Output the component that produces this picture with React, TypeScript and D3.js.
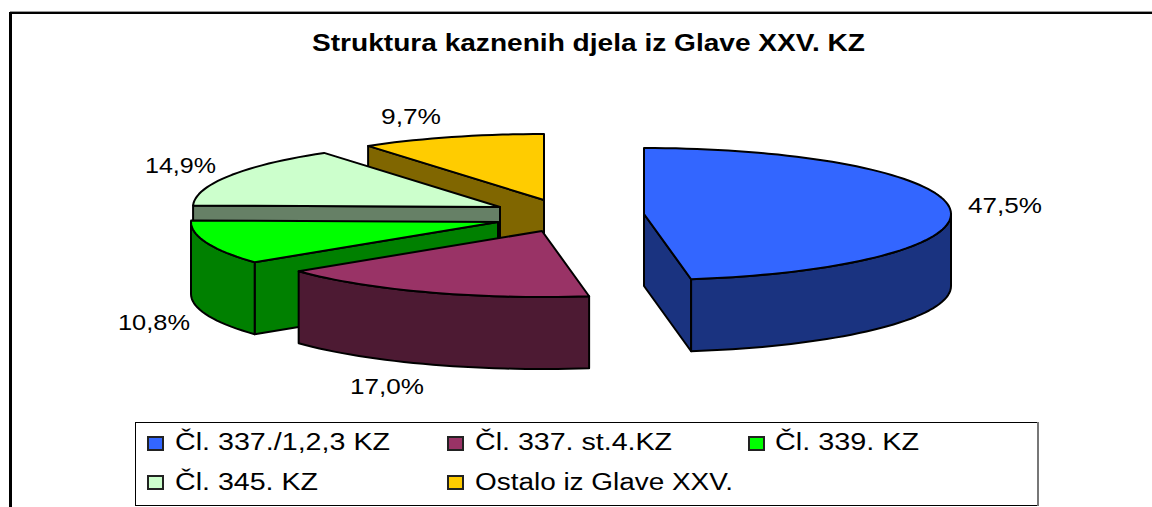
import React from "react";
import * as d3 from "d3";

// ---- data ----
const title = "Struktura kaznenih djela iz Glave XXV. KZ";
const categories = ["Čl. 337./1,2,3 KZ", "Čl. 337. st.4.KZ", "Čl. 339. KZ", "Čl. 345. KZ", "Ostalo iz Glave XXV."];
const shares = [47.5, 17.0, 10.8, 14.9, 9.7];
const shareLabels = ["47,5%", "17,0%", "10,8%", "14,9%", "9,7%"];

// ---- styles and layout ----
const topColors = ["#3366FF", "#993366", "#00FF00", "#CCFFCC", "#FFCC00"];
const sideColors = ["#1A3380", "#4D1A33", "#008000", "#668066", "#806600"];
const apexes: [number, number][] = [[644, 214], [542, 231], [498, 222], [500, 207], [544, 200]];
const labelBoxes = [
  { x: 968, y: 213, w: 74 },
  { x: 350, y: 394, w: 74 },
  { x: 118, y: 330, w: 72 },
  { x: 145, y: 173, w: 71 },
  { x: 381, y: 124, w: 60 },
];
const legendBoxes = [
  { sx: 148, sy: 437, tx: 175, ty: 450, w: 215 },
  { sx: 448, sy: 437, tx: 475, ty: 450, w: 197 },
  { sx: 749, sy: 437, tx: 775, ty: 450, w: 144 },
  { sx: 148, sy: 476, tx: 175, ty: 490, w: 143 },
  { sx: 448, sy: 476, tx: 475, ty: 490, w: 258 },
];
const RX = 307;
const RY = 66;
const DEPTH = 72;
const FONT = "'Liberation Sans', Arial, sans-serif";

const pie = d3.pie<number>().sort(null).value((d) => d);
const arcs = pie(shares);

type P = [number, number];
const linePath = d3.line<P>();

function Slice({ i }: { i: number }) {
  const [cx, cy] = apexes[i];
  const sx = d3.scaleLinear().domain([-1, 1]).range([cx - RX, cx + RX]);
  const sy = d3.scaleLinear().domain([-1, 1]).range([cy + RY, cy - RY]); // north = +1
  const pt = (a: number, dz = 0): P => [sx(Math.sin(a)), sy(Math.cos(a)) + dz];
  const apex = (dz = 0): P => [cx, cy + dz];
  const { startAngle: a0, endAngle: a1 } = arcs[i];

  const sampled = (from: number, to: number, dz = 0): P[] => {
    const n = Math.max(2, Math.ceil(((to - from) / Math.PI) * 90));
    return d3.range(n + 1).map((k) => pt(from + ((to - from) * k) / n, dz));
  };

  const faces: P[][] = [];
  // cut faces that turn towards the viewer
  if (-Math.cos(a0 - Math.PI / 2) > 1e-3) faces.push([apex(), pt(a0), pt(a0, DEPTH), apex(DEPTH)]);
  if (-Math.cos(a1 + Math.PI / 2) > 1e-3) faces.push([apex(), pt(a1), pt(a1, DEPTH), apex(DEPTH)]);
  // outer wall between 90° and 270°
  const w0 = Math.max(a0, Math.PI / 2);
  const w1 = Math.min(a1, (3 * Math.PI) / 2);
  if (w1 > w0) {
    faces.push([...sampled(w0, w1), ...sampled(w0, w1, DEPTH).reverse()]);
  }
  const top: P[] = [apex(), ...sampled(a0, a1)];

  return (
    <g stroke="#000" strokeWidth={2} strokeLinejoin="round">
      {faces.map((f, k) => (
        <path key={k} d={linePath(f)! + "Z"} fill={sideColors[i]} />
      ))}
      <path d={linePath(top)! + "Z"} fill={topColors[i]} />
    </g>
  );
}

export default function App() {
  const order = [4, 3, 2, 1, 0];
  return (
    <svg
      width={1152}
      height={507}
      viewBox="0 0 1152 507"
      style={{ position: "absolute", left: 0, top: 0, display: "block", background: "#fff" }}
      fontFamily={FONT}
    >
      {/* outer chart frame, cropped on the right and at the bottom */}
      <line x1={10} y1={11.5} x2={1152} y2={11.5} stroke="#999" strokeWidth={1} />
      <line x1={9} y1={13} x2={1152} y2={13} stroke="#000" strokeWidth={2} />
      <line x1={10.5} y1={12} x2={10.5} y2={507} stroke="#000" strokeWidth={3} />

      <text x={312} y={51} fontSize={24} fontWeight={700} fill="#000" textLength={553} lengthAdjust="spacingAndGlyphs">
        {title}
      </text>

      {order.map((i) => (
        <Slice key={i} i={i} />
      ))}

      {shareLabels.map((t, i) => (
        <text
          key={t}
          x={labelBoxes[i].x}
          y={labelBoxes[i].y}
          fontSize={22.5}
          fill="#000"
          textLength={labelBoxes[i].w}
          lengthAdjust="spacingAndGlyphs"
        >
          {t}
        </text>
      ))}

      {/* legend */}
      <rect x={135.5} y={422.5} width={902} height={83} fill="#fff" stroke="#000" strokeWidth={1} />
      <line x1={1038} y1={422} x2={1038} y2={506} stroke="#777" strokeWidth={2} />
      {categories.map((c, i) => (
        <g key={c}>
          <rect x={legendBoxes[i].sx} y={legendBoxes[i].sy} width={15} height={13} fill={topColors[i]} stroke="#222" strokeWidth={2} />
          <text
            x={legendBoxes[i].tx}
            y={legendBoxes[i].ty}
            fontSize={23.5}
            fill="#000"
            textLength={legendBoxes[i].w}
            lengthAdjust="spacingAndGlyphs"
          >
            {c}
          </text>
        </g>
      ))}
    </svg>
  );
}
